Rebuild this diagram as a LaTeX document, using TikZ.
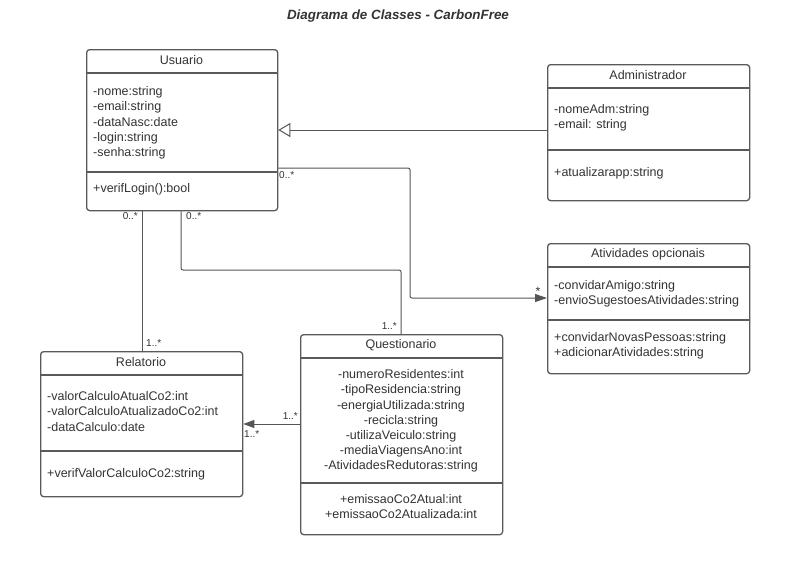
\documentclass[tikz,border=0pt]{standalone}
\usepackage{fontspec}
\setmainfont{Liberation Sans}
\usetikzlibrary{calc,arrows.meta}
\definecolor{boxgray}{HTML}{5A5A5A}
\definecolor{txtgray}{HTML}{333333}
\definecolor{linegray}{HTML}{555555}
\tikzset{
  umlbox/.style={draw=boxgray, line width=1.3pt, rounded corners=3pt, anchor=north west, inner sep=0pt},
  sepline/.style={draw=boxgray, line width=1.1pt},
  hdr/.style={text=txtgray, font=\fontsize{12.5}{14}\selectfont, inner sep=0pt},
  attrs/.style={text=txtgray, font=\fontsize{12.5}{15.2}\selectfont, inner sep=0pt, align=left, anchor=north west},
  cattrs/.style={text=txtgray, font=\fontsize{12.5}{15.2}\selectfont, inner sep=0pt, align=center, anchor=north},
  conn/.style={draw=linegray, line width=1pt, rounded corners=2pt},
  mult/.style={text=txtgray, font=\fontsize{10}{11}\selectfont, inner sep=0pt},
}
\begin{document}
\begin{tikzpicture}[x=1pt,y=-1pt]
\useasboundingbox[fill=white] (0,0) rectangle (785,571);

\node[text=txtgray, font=\fontsize{13.4}{15}\selectfont\bfseries\itshape, inner sep=0pt] (title) at (398,16) {Diagrama de Classes - CarbonFree};

% Usuario
\node[umlbox, minimum width=191pt, minimum height=161pt] (usuario) at (86,49) {};
\draw[sepline] ($(usuario.north west)+(0,24)$) -- ($(usuario.north east)+(0,24)$);
\draw[sepline] ($(usuario.north west)+(0,123)$) -- ($(usuario.north east)+(0,123)$);
\node[hdr] (usuarioH) at (181.5,60) {Usuario};
\node[attrs] (usuarioA) at (93,86.5) {-nome:string\\-email:string\\-dataNasc:date\\-login:string\\-senha:string};
\node[attrs] (usuarioM) at (93,183.5) {+verifLogin():bool};

% Administrador
\node[umlbox, minimum width=202pt, minimum height=136pt] (admin) at (547,64) {};
\draw[sepline] ($(admin.north west)+(0,24)$) -- ($(admin.north east)+(0,24)$);
\draw[sepline] ($(admin.north west)+(0,86)$) -- ($(admin.north east)+(0,86)$);
\node[hdr] (adminH) at (648,75) {Administrador};
\node[attrs] (adminA) at (554,104.5) {-nomeAdm:string\\-email: string};
\node[attrs] (adminM) at (554,167.5) {+atualizarapp:string};

% Atividades opcionais
\node[umlbox, minimum width=202pt, minimum height=130pt] (ativ) at (547,243) {};
\draw[sepline] ($(ativ.north west)+(0,24)$) -- ($(ativ.north east)+(0,24)$);
\draw[sepline] ($(ativ.north west)+(0,77)$) -- ($(ativ.north east)+(0,77)$);
\node[hdr] (ativH) at (648,254) {Atividades opcionais};
\node[attrs] (ativA) at (554,280.5) {-convidarAmigo:string\\-envioSugestoesAtividades:string};
\node[attrs] (ativM) at (554,332.5) {+convidarNovasPessoas:string\\+adicionarAtividades:string};

% Relatorio
\node[umlbox, minimum width=202pt, minimum height=145pt] (relat) at (40,351) {};
\draw[sepline] ($(relat.north west)+(0,24)$) -- ($(relat.north east)+(0,24)$);
\draw[sepline] ($(relat.north west)+(0,100)$) -- ($(relat.north east)+(0,100)$);
\node[hdr] (relatH) at (141,362) {Relatorio};
\node[attrs] (relatA) at (47,391.5) {-valorCalculoAtualCo2:int\\-valorCalculoAtualizadoCo2:int\\-dataCalculo:date};
\node[attrs] (relatM) at (47,468.5) {+verifValorCalculoCo2:string};

% Questionario
\node[umlbox, minimum width=202pt, minimum height=200pt] (quest) at (300,334) {};
\draw[sepline] ($(quest.north west)+(0,24)$) -- ($(quest.north east)+(0,24)$);
\draw[sepline] ($(quest.north west)+(0,149)$) -- ($(quest.north east)+(0,149)$);
\node[hdr] (questH) at (401,345) {Questionario};
\node[cattrs] (questA) at (401,369.5) {-numeroResidentes:int\\-tipoResidencia:string\\-energiaUtilizada:string\\-recicla:string\\-utilizaVeiculo:string\\-mediaViagensAno:int\\-AtividadesRedutoras:string};
\node[cattrs] (questM) at (401,494.5) {+emissaoCo2Atual:int\\+emissaoCo2Atualizada:int};

% Generalization Administrador -> Usuario
\draw[conn, -{Triangle[open,length=12pt,width=14pt,line width=1pt]}] (admin.west |- 0,130) -- (usuario.east |- 0,130);

% Usuario -> Atividades
\draw[conn, -{Triangle[length=12pt,width=8pt]}] (usuario.east |- 0,168) -- (410,168) -- (410,298) -- (ativ.west |- 0,298);
\node[mult, anchor=north west] (m1) at (279,171) {0..*};
\node[mult, font=\fontsize{12}{13}\selectfont] (m2) at (538,291) {*};

% Usuario -- Relatorio
\draw[conn] (usuario.south -| 142,0) -- (relat.north -| 142,0);
\node[mult, anchor=north east] (m3) at (138,212) {0..*};
\node[mult, anchor=south west] (m4) at (146,347) {1..*};

% Usuario -- Questionario
\draw[conn] (usuario.south -| 181,0) -- (181,270) -- (401,270) -- (quest.north -| 401,0);
\node[mult, anchor=north west] (m5) at (186,212) {0..*};
\node[mult, anchor=south east] (m6) at (397,330) {1..*};

% Questionario -> Relatorio
\draw[conn, -{Triangle[length=11pt,width=8pt]}] (quest.west |- 0,424) -- (relat.east |- 0,424);
\node[mult, anchor=south east] (m7) at (298,420) {1..*};
\node[mult, anchor=north west] (m8) at (244,430) {1..*};
\end{tikzpicture}
\end{document}
